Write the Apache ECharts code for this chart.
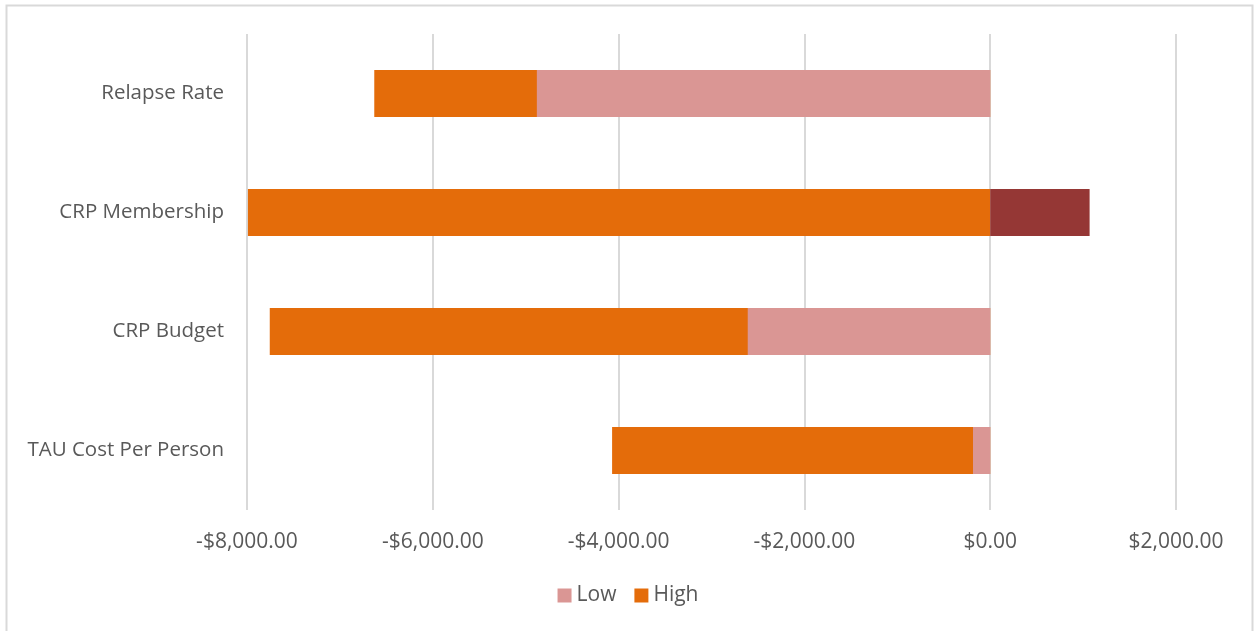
<!DOCTYPE html>
<html><head><meta charset="utf-8">
<script src="https://cdn.jsdelivr.net/npm/echarts@6/dist/echarts.min.js"></script>
<style>html,body{margin:0;padding:0;background:#fff}#c{width:1256px;height:631px}</style>
</head><body><div id="c"></div>
<script>
const categories = ['Relapse Rate', 'CRP Membership', 'CRP Budget', 'TAU Cost Per Person'];
const lowValues = [-4880, 1070, -2610, -185];
const highValues = [-6630, -7990, -7755, -4070];
const tickMin = -8000, tickMax = 2000, tickStep = 2000;
const lowColor = '#DA9694', lowPosColor = '#953735', highColor = '#E46C0A';

function money(v){
  const s = Math.abs(v).toLocaleString('en-US',{minimumFractionDigits:2,maximumFractionDigits:2});
  return (v<0?'-':'') + '$' + s;
}
const chart = echarts.init(document.getElementById('c'));
const font = '"Open Sans", sans-serif';
chart.setOption({
  animation:false,
  graphic:[{type:'rect',shape:{x:6.5,y:5.5,width:1246,height:640},style:{fill:'none',stroke:'#D9D9D9',lineWidth:2}}],
  grid:{left:247,right:80,top:34,bottom:121,containLabel:false},
  legend:{data:['Low','High'],bottom:20,left:'center',itemWidth:14,itemHeight:14,itemGap:18,icon:'rect',
    textStyle:{color:'#595959',fontSize:21,fontFamily:font}},
  xAxis:{type:'value',min:tickMin,max:tickMax,interval:tickStep,
    axisLine:{show:false},axisTick:{show:false},
    splitLine:{lineStyle:{color:'#D9D9D9',width:2}},
    axisLabel:{formatter:money,color:'#595959',fontSize:21,fontFamily:font,margin:22}},
  yAxis:{type:'category',data:categories,inverse:true,
    axisLine:{show:false},axisTick:{show:false},
    axisLabel:{color:'#595959',fontSize:20.5,fontFamily:font,margin:23}},
  series:[
    {name:'High',type:'bar',data:highValues,barWidth:47,itemStyle:{color:highColor},z:2},
    {name:'Low',type:'bar',barGap:'-100%',barWidth:47,z:3,
      data:lowValues.map(v=>({value:v,itemStyle:{color:v>0?lowPosColor:lowColor}})),
      itemStyle:{color:lowColor}}
  ]
});
</script></body></html>
